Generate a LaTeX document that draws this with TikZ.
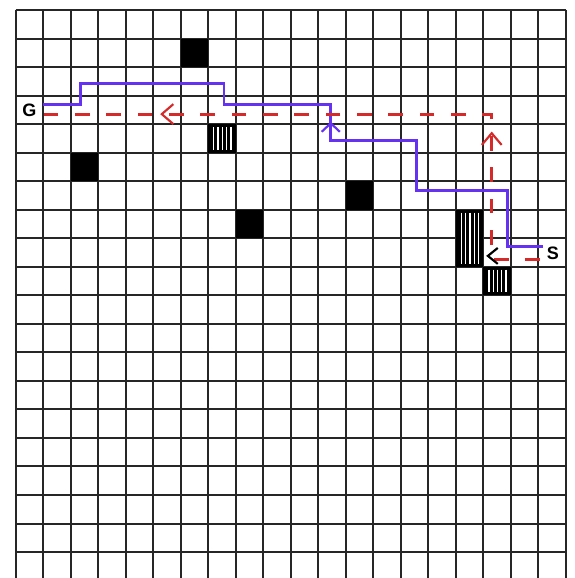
\documentclass[tikz,border=0pt]{standalone}
\usepackage{fontspec}
\setmainfont{Liberation Sans}
\usepackage{xcolor}
\definecolor{pathviolet}{HTML}{6432F0}
\definecolor{pathred}{HTML}{D42A2A}
\usepackage{tikz}

\begin{document}
\begin{tikzpicture}[
        x=20.64pt, y=-21.40pt,
        gridline/.style={draw=black!85, line width=1.5pt},
        wall/.style={fill=black},
        hatched/.style={fill=black},
        stripe/.style={draw=white, line width=1pt},
        learned/.style={draw=pathviolet, line width=2.2pt, line join=miter},
        planned/.style={draw=pathred, line width=2.2pt, dash pattern=on 11pt off 12.5pt},
        head/.style={line width=1.6pt, solid, line join=miter},
        marker/.style={font=\fontsize{13.5}{13.5}\selectfont\bfseries, inner sep=0pt},
    ]
    \useasboundingbox (-0.570,-0.35) rectangle (20.32,19.91);
    \clip (-0.570,-0.35) rectangle (20.32,19.91);
    \fill[white] (-0.570,-0.35) rectangle (20.32,19.91);

    % === Grid ===
    \foreach \i in {0,...,20} {
        \draw[gridline] (\i,0) -- (\i,20);
        \draw[gridline] (0,\i) -- (20,\i);
    }

    % === Obstacles ===
    \foreach \c/\r in {6/1, 2/5, 12/6, 8/7} {
        \fill[wall] (\c,\r) rectangle ++(1,1);
    }

    % === Hatched cells ===
    \foreach \c/\r/\h in {7/4/1, 16/7/2, 17/9/1} {
        \fill[hatched] (\c,\r) rectangle ++(1,\h);
        \foreach \s in {0,...,4}
            \draw[stripe] (\c+0.2+0.155*\s,\r+0.1) -- ++(0,\h-0.2);
    }

    % === Start and goal ===
    \node[marker] (goal) at (0.5,3.51) {G};
    \node[marker] (start) at (19.52,8.52) {S};

    % === Paths ===
    \draw[learned] (19.17,8.30) -| (17.86,6.33) -| (14.55,4.58) -| (11.45,3.31)
        -| (7.57,2.57) -| (2.34,3.31) -- (1.0,3.31);
    \draw[learned, head] (11.12,4.27) -- (11.45,3.97) -- (11.78,4.27);

    \draw[planned] (19.05,8.73) -- (17.30,8.73) -- (17.30,3.65) -- (1.0,3.65);
    \draw[planned, head] (5.73,3.30) -- (5.31,3.65) -- (5.73,4.00);
    \draw[planned, head] (16.94,4.73) -- (17.30,4.32) -- (17.66,4.73);
    \draw[head, black] (17.52,8.34) -- (17.16,8.62) -- (17.52,8.90);

\end{tikzpicture}
\end{document}
